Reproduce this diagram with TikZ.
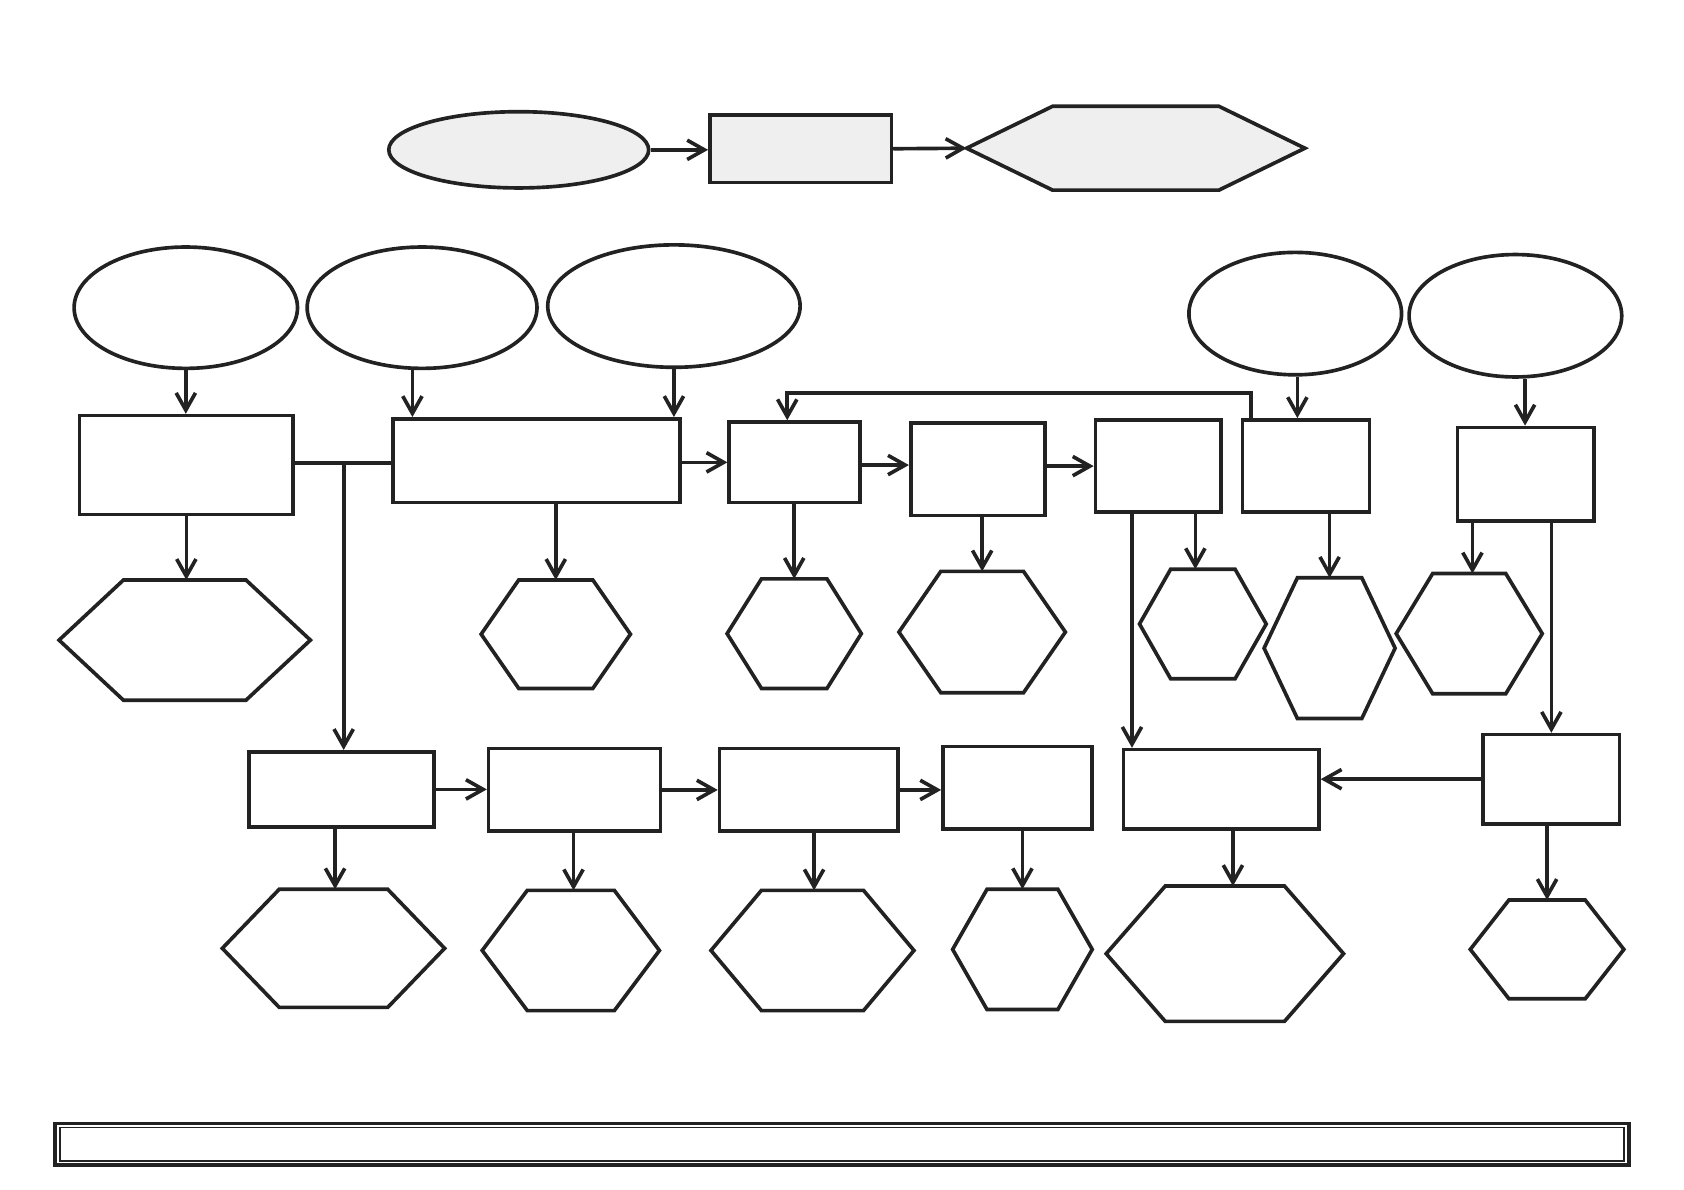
\documentclass[tikz,border=0pt]{standalone}
\usetikzlibrary{arrows.meta,shapes.geometric}
\definecolor{inkline}{HTML}{222222}
\definecolor{paleshade}{HTML}{EFEFEF}
\newlength{\pxu}\setlength{\pxu}{0.5pt}
% hexagon: [style], name, x, y, width, height, tip offset
\newcommand{\hexnode}[7][]{%
  \node[hexbox={#5}{#6}] (#2) at (#3,#4) {};
  \draw[outline,#1] (#2.west) -- ([xshift=#7*\pxu]#2.north west)
    -- ([xshift=-#7*\pxu]#2.north east) -- (#2.east)
    -- ([xshift=-#7*\pxu]#2.south east) -- ([xshift=#7*\pxu]#2.south west) -- cycle;}

\begin{document}
\begin{tikzpicture}[
  x=0.5pt, y=-0.5pt,
  outline/.style={draw=inkline, line width=1.7pt, line join=miter},
  box/.style 2 args={rectangle, outline, inner sep=0pt,
                     minimum width=#1*\pxu, minimum height=#2*\pxu},
  oval/.style 2 args={ellipse, outline, inner sep=0pt,
                      minimum width=#1*\pxu, minimum height=#2*\pxu},
  hexbox/.style 2 args={rectangle, inner sep=0pt, outer sep=0pt,
                        minimum width=#1*\pxu, minimum height=#2*\pxu},
  shaded/.style={fill=paleshade},
  arr/.style={draw=inkline, line width=1.7pt,
              -{Straight Barb[length=8pt,width=9pt,line width=1.7pt]}},
  link/.style={draw=inkline, line width=1.7pt}
]
\useasboundingbox (0,0) rectangle (1568,1108);

% top row
\node[oval={242}{71}, shaded] (TE) at (483,139.5) {};
\node[box={169}{63}, shaded] (TR) at (745.5,138.5) {};
\hexnode[shaded]{TH}{1057.5}{138}{315}{78}{80}

% ellipses
\node[oval={208}{113}] (E1) at (173,286.5) {};
\node[oval={214}{113}] (E2) at (393,286.5) {};
\node[oval={235}{114}] (E3) at (627.5,285) {};
\node[oval={198}{114}] (E4) at (1206,292) {};
\node[oval={198}{114}] (E5) at (1411,294) {};

% upper boxes
\node[box={199}{92}] (B1) at (173.5,433) {};
\node[box={267}{78}] (B2) at (499.5,429) {};
\node[box={122}{75}] (B3) at (740,430.5) {};
\node[box={125}{86}] (B4) at (910.5,437) {};
\node[box={117}{86}] (B5) at (1078.5,434) {};
\node[box={118}{86}] (B6) at (1216,434) {};
\node[box={127}{87}] (B7) at (1420.5,441.5) {};

% upper hexagons
\hexnode{H1}{172}{596}{234}{112}{60}
\hexnode{H2}{517.5}{590.5}{139}{101}{35}
\hexnode{H3}{739.5}{590}{125}{102}{32}
\hexnode{H4}{914.5}{588.5}{155}{113}{39}
\hexnode{H5}{1120}{581}{118}{102}{29}
\hexnode{H6}{1238}{603.5}{122}{131}{31}
\hexnode{H7}{1368}{590}{136}{112}{34}

% lower boxes
\node[box={172}{70}] (C1) at (318,735) {};
\node[box={160}{77}] (C2) at (535,735.5) {};
\node[box={166}{77}] (C3) at (753,735.5) {};
\node[box={139}{77}] (C4) at (947.5,733.5) {};
\node[box={182}{74}] (C5) at (1137,735) {};
\node[box={127}{83}] (C6) at (1444.5,725.5) {};

% lower hexagons
\hexnode{G1}{310.5}{883}{207}{110}{53}
\hexnode{G2}{531.5}{885}{165}{112}{42}
\hexnode{G3}{756.5}{885}{189}{112}{47}
\hexnode{G4}{952}{884}{130}{112}{32}
\hexnode{G5}{1140.5}{888}{221}{126}{55}
\hexnode{G6}{1440.5}{884}{143}{92}{36}

% bottom bar
\node[box={1466}{39}, outer sep=0pt] (bar) at (784,1065.5) {};
\draw[draw=inkline, line width=0.6pt]
  ([xshift=5*\pxu,yshift=-4*\pxu]bar.north west) rectangle
  ([xshift=-5*\pxu,yshift=4*\pxu]bar.south east);

\coordinate (J1) at (320,431);
\coordinate (FB) at (1165,366);

% connectors
\draw[arr] (TE.east) -- (TE.east -| TR.west);
\draw[arr] (TR.east) -- (TH.west);

\draw[arr] (E1.south) -- (E1.south |- B1.north);
\draw[arr] (E2.south -| 384,0) -- (B2.north -| 384,0);
\draw[arr] (E3.south) -- (E3.south |- B2.north);
\draw[arr] (E4.south -| 1208,0) -- (B6.north -| 1208,0);
\draw[arr] (E5.south -| 1420,0) -- (B7.north -| 1420,0);

\draw[link] (B1.east |- J1) -- (B2.west |- J1);
\draw[arr] (J1) -- (J1 |- C1.north);
\draw[arr] (B2.east |- B3.west) -- (B3.west);
\draw[arr] (B3.east |- 0,433) -- (B4.west |- 0,433);
\draw[arr] (B4.east |- B5.west) -- (B5.west);
\draw[arr] (B6.north -| FB) -- (FB) -| ([xshift=-7*\pxu]B3.north);

\draw[arr] (B1.south) -- (B1.south |- H1.north);
\draw[arr] (B2.south -| H2.north) -- (H2.north);
\draw[arr] (B3.south -| H3.north) -- (H3.north);
\draw[arr] (B4.south -| H4.north) -- (H4.north);
\draw[arr] (B5.south -| 1113,0) -- (H5.north -| 1113,0);
\draw[arr] (B5.south -| 1054,0) -- (C5.north -| 1054,0);
\draw[arr] (B6.south -| H6.north) -- (H6.north);
\draw[arr] (B7.south -| 1371,0) -- (H7.north -| 1371,0);
\draw[arr] (B7.south -| C6.north) -- (C6.north);

\draw[arr] (C1.east) -- (C1.east -| C2.west);
\draw[arr] (C2.east) -- (C3.west);
\draw[arr] (C3.east) -- (C3.east -| C4.west);
\draw[arr] (C6.west) -- (C6.west -| C5.east);

\draw[arr] (C1.south -| 312,0) -- (G1.north -| 312,0);
\draw[arr] (C2.south -| 534,0) -- (G2.north -| 534,0);
\draw[arr] (C3.south -| 758,0) -- (G3.north -| 758,0);
\draw[arr] (C4.south -| G4.north) -- (G4.north);
\draw[arr] (C5.south -| 1148,0) -- (G5.north -| 1148,0);
\draw[arr] (C6.south -| G6.north) -- (G6.north);

\end{tikzpicture}
\end{document}
